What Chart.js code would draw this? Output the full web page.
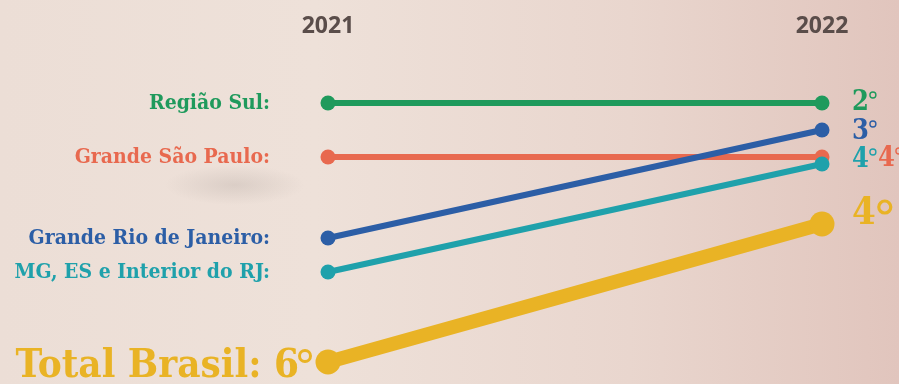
<!DOCTYPE html>
<html lang="pt-BR">
<head>
<meta charset="utf-8">
<script src="https://cdn.jsdelivr.net/npm/chart.js@4.4.1/dist/chart.umd.min.js"></script>
<style>
  html, body { margin: 0; padding: 0; }
  body {
    width: 899px; height: 384px; overflow: hidden;
    background:
      radial-gradient(ellipse 70px 20px at 235px 185px, rgba(120,110,105,0.16), rgba(120,110,105,0) 100%),
      linear-gradient(90deg, #ecded6 0%, #eee1d9 35%, #e9d6ce 70%, #e1c5bd 100%);
  }
  #wrap { position: relative; width: 899px; height: 384px; }
</style>
</head>
<body>
<div id="wrap"><canvas id="chart" width="899" height="384"></canvas></div>
<script>
// Years on the horizontal axis
const years = ['2021', '2022'];

// Ranking positions per region (1 = best)
const regionNames = ['Região Sul:', 'Grande São Paulo:', 'Grande Rio de Janeiro:', 'MG, ES e Interior do RJ:'];
const regiaoSul = [2, 2];
const grandeSaoPaulo = [4, 4];
const grandeRio = [7, 3];
const mgEsInterior = [8, 4];

// National ranking
const totalName = 'Total Brasil:';
const totalBrasil = [6, 4];

const colors = {
  sul: '#1f9a5c',
  sp: '#e8694f',
  rio: '#2c5ea6',
  mg: '#1fa1ab',
  total: '#e9b325'
};

const slab = '"DejaVu Serif Condensed", "DejaVu Serif", serif';

function lineSet(label, data, color, axis, extra) {
  return Object.assign({
    label, data,
    borderColor: color,
    backgroundColor: color,
    pointBackgroundColor: color,
    pointBorderWidth: 0,
    borderWidth: 6,
    pointRadius: 7.5,
    pointHoverRadius: 7.5,
    yAxisID: axis,
    clip: false,
    borderCapStyle: 'round'
  }, extra || {});
}

const datasets = [
  lineSet(totalName, totalBrasil, colors.total, 'yTotal',
    { borderWidth: 14, pointRadius: [12.5, 12.5], pointHoverRadius: 12.5,
      nameSize: 40, nameWithRank: true,
      rankFont: 38, rankDx: 30, rankDy: -10, degBig: true }),
  lineSet(regionNames[3], mgEsInterior, colors.mg, 'yMg', { rankDx: 30, rankDy: -4 }),
  lineSet(regionNames[2], grandeRio, colors.rio, 'yRegion', { rankDx: 30, rankDy: 2 }),
  lineSet(regionNames[1], grandeSaoPaulo, colors.sp, 'yRegion', { rankDx: 56, rankDy: 2 }),
  lineSet(regionNames[0], regiaoSul, colors.sul, 'yRegion', { rankDx: 30, rankDy: 0 })
];

function drawDegree(ctx, cx, cy, r, lw, color) {
  ctx.save();
  ctx.strokeStyle = color;
  ctx.lineWidth = lw;
  ctx.beginPath();
  ctx.arc(cx, cy, r, 0, Math.PI * 2);
  ctx.stroke();
  ctx.restore();
}

// Draws years, region names and the 2022 rank next to each line
const labelPlugin = {
  id: 'slopeLabels',
  afterDatasetsDraw(chart) {
    const ctx = chart.ctx;
    const xs = chart.scales.x;
    ctx.save();
    // year headers
    ctx.fillStyle = '#5a4d4a';
    ctx.font = 'bold 23px "Open Sans", "DejaVu Sans", sans-serif';
    ctx.textAlign = 'center';
    ctx.textBaseline = 'middle';
    years.forEach((y, i) => ctx.fillText(y, xs.getPixelForValue(i), 26));

    chart.data.datasets.forEach((ds, di) => {
      const meta = chart.getDatasetMeta(di);
      const p0 = meta.data[0], p1 = meta.data[meta.data.length - 1];
      ctx.fillStyle = ds.borderColor;
      ctx.textBaseline = 'middle';
      if (ds.nameWithRank) {
        // large name with the 2021 rank
        ctx.font = 'bold ' + ds.nameSize + 'px ' + slab;
        ctx.textAlign = 'left';
        const full = ds.label + ' ' + ds.data[0];
        const wFull = ctx.measureText(full).width;
        const x0 = p0.x - 29 - wFull;
        ctx.fillText(full, x0, p0.y + 5);
        drawDegree(ctx, x0 + wFull + 6, p0.y - 6, 5.5, 3, ds.borderColor);
      } else {
        ctx.font = 'bold 21px ' + slab;
        ctx.textAlign = 'right';
        ctx.fillText(ds.label, p0.x - 58, p0.y + 1);
      }
      // rank on the right
      const size = ds.rankFont || 27;
      ctx.font = 'bold ' + size + 'px ' + slab;
      ctx.textAlign = 'left';
      const rx = p1.x + ds.rankDx, ry = p1.y + ds.rankDy;
      const r1 = String(ds.data[ds.data.length - 1]);
      ctx.fillText(r1, rx, ry);
      const w = ctx.measureText(r1).width;
      if (ds.degBig) {
        drawDegree(ctx, rx + w + 9, ry - 7, 6, 3.2, ds.borderColor);
      } else {
        drawDegree(ctx, rx + w + 4, ry - 8, 3, 1.4, ds.borderColor);
      }
    });
    ctx.restore();
  }
};

new Chart(document.getElementById('chart'), {
  type: 'line',
  data: { labels: years, datasets },
  options: {
    responsive: false,
    animation: false,
    events: [],
    layout: { padding: { top: 40, bottom: 13, left: 328, right: 77 } },
    plugins: { legend: { display: false }, tooltip: { enabled: false } },
    scales: {
      x: { type: 'category', display: false, offset: false },
      yRegion: { type: 'linear', display: false, reverse: true, min: -0.3333, max: 11.9259 },
      yMg: { type: 'linear', display: false, reverse: true, min: -0.5926, max: 11.6667 },
      yTotal: { type: 'linear', display: false, reverse: true, min: 1.3333, max: 6.1304 }
    }
  },
  plugins: [labelPlugin]
});
</script>
</body>
</html>
